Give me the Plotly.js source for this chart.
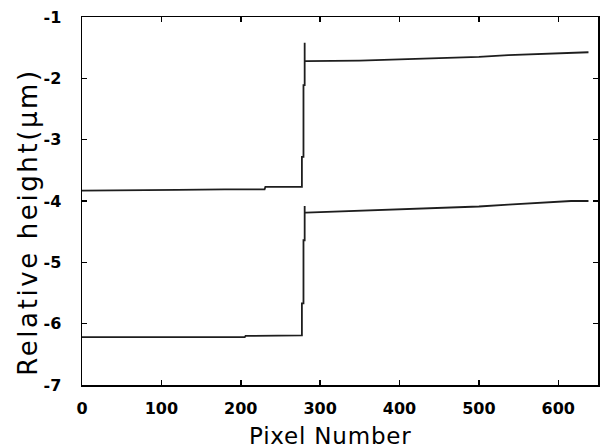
<!DOCTYPE html>
<html>
<head>
<meta charset="utf-8">
<script src="https://cdn.plot.ly/plotly-3.0.1.min.js"></script>
<style>html,body{margin:0;padding:0;background:#fff;}#chart{width:600px;height:448px;}</style>
</head>
<body>
<div id="chart"></div>
<script>
// Upper profile (pixel number, relative height in µm)
const upperX = [0, 60, 120, 180, 230, 231, 277, 277, 279, 279, 280.5, 280.5, 280.5, 282, 350, 400, 450, 500, 537, 579, 616, 638];
const upperY = [-3.83, -3.83, -3.82, -3.81, -3.81, -3.77, -3.77, -3.28, -3.28, -2.11, -2.11, -1.42, -1.72, -1.72, -1.71, -1.69, -1.67, -1.65, -1.62, -1.60, -1.575, -1.575];
// Lower profile
const lowerX = [0, 100, 200, 205, 206, 277, 277, 279, 279, 280.5, 280.5, 280.5, 282, 350, 420, 500, 537, 579, 616, 638];
const lowerY = [-6.22, -6.22, -6.22, -6.22, -6.20, -6.19, -5.67, -5.67, -4.64, -4.64, -4.08, -4.19, -4.19, -4.16, -4.13, -4.09, -4.06, -4.03, -4.00, -4.00];
const xTicks = [0, 100, 200, 300, 400, 500, 600];
const yTicks = [-7, -6, -5, -4, -3, -2, -1];
const xTitle = 'Pixel Number';
const yTitle = 'Relative height(\u00B5m)';

const lineStyle = {color: '#1e1e1e', width: 1.8};
const traces = [
  {x: upperX, y: upperY, mode: 'lines', line: lineStyle, hoverinfo: 'skip'},
  {x: lowerX, y: lowerY, mode: 'lines', line: lineStyle, hoverinfo: 'skip'}
];

const axisCommon = {
  showgrid: false, zeroline: false, showline: true, linecolor: '#000', linewidth: 1.5,
  mirror: 'ticks', ticks: 'inside', ticklen: 5, tickwidth: 1.5, tickcolor: '#000',
  tickfont: {family: 'DejaVu Sans', size: 16, color: '#000', weight: 'bold'}
};

const layout = {
  width: 600, height: 448,
  margin: {l: 82, r: 2, t: 17, b: 63},
  paper_bgcolor: '#fff', plot_bgcolor: '#fff',
  showlegend: false,
  xaxis: Object.assign({}, axisCommon, {
    range: [0, 650], tickvals: xTicks, ticktext: xTicks.map(String),
    ticklabelstandoff: 8
  }),
  yaxis: Object.assign({}, axisCommon, {
    range: [-7, -1], tickvals: yTicks, ticktext: yTicks.map(String),
    ticklabelstandoff: 16
  }),
  annotations: [
    {text: '<span style="letter-spacing:0.8px">' + xTitle + '</span>', xref: 'paper', yref: 'paper',
     x: 0.481, y: -0.138, xanchor: 'center', yanchor: 'middle', showarrow: false,
     font: {family: 'DejaVu Sans', size: 23, color: '#000'}},
    {text: '<span style="letter-spacing:2.6px">' + yTitle + '</span>', xref: 'paper', yref: 'paper',
     x: -0.105, y: 0.443, xanchor: 'center', yanchor: 'middle', textangle: -90, showarrow: false,
     font: {family: 'DejaVu Sans', size: 26, color: '#000'}}
  ]
};

Plotly.newPlot('chart', traces, layout, {staticPlot: true, displayModeBar: false});
</script>
</body>
</html>
